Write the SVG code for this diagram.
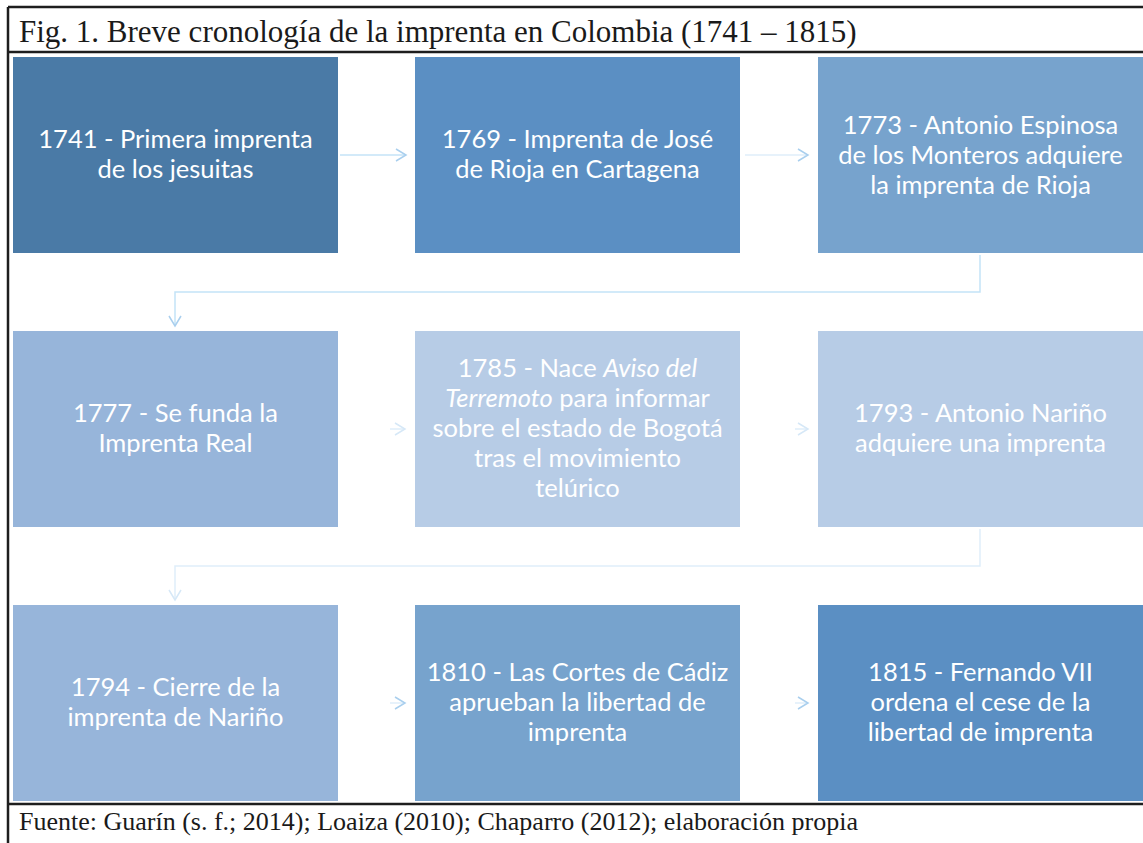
<svg xmlns="http://www.w3.org/2000/svg" width="1143" height="843" viewBox="0 0 1143 843">
<defs>
<style>
.t{font-family:Lato,"Open Sans",sans-serif;font-size:25.5px;fill:#ffffff;text-anchor:middle}
.cap{font-family:"Liberation Serif",serif;font-size:31px;fill:#1a1a1a}
.src{font-family:"Liberation Serif",serif;font-size:26px;fill:#1a1a1a}
.fr{stroke:#1e1e1e;stroke-width:2.5;fill:none}
.c{stroke:#c4e3f7;stroke-width:1.5;fill:none}
.cf{stroke:#dfeefa;stroke-width:1.5;fill:none}
</style>
<marker id="ah" markerWidth="14" markerHeight="14" refX="11" refY="7" orient="auto" markerUnits="userSpaceOnUse">
<path d="M1,1 L11,7 L1,13" fill="none" stroke="#a9cfee" stroke-width="1.5"/>
</marker>
<marker id="ahf" markerWidth="14" markerHeight="14" refX="11" refY="7" orient="auto" markerUnits="userSpaceOnUse">
<path d="M1,1 L11,7 L1,13" fill="none" stroke="#d6e8f7" stroke-width="1.5"/>
</marker>
</defs>
<rect width="1143" height="843" fill="#ffffff"/>
<g id="frame">
<line class="fr" x1="8" y1="7" x2="1143" y2="7"/>
<line class="fr" x1="8" y1="7" x2="8" y2="843"/>
<line class="fr" x1="8" y1="52" x2="1143" y2="52"/>
<line class="fr" x1="8" y1="804" x2="1143" y2="804"/>
<text class="cap" x="19" y="42">Fig. 1. Breve cronología de la imprenta en Colombia (1741 – 1815)</text>
<text class="src" x="19" y="830">Fuente: Guarín (s. f.; 2014); Loaiza (2010); Chaparro (2012); elaboración propia</text>
</g>
<g id="connectors">
<line class="c" x1="340" y1="155" x2="406" y2="155" marker-end="url(#ah)"/>
<line class="cf" x1="745" y1="155" x2="808" y2="155" marker-end="url(#ah)"/>
<polyline class="c" points="980,255 980,292 175,292 175,326" marker-end="url(#ah)"/>
<line class="cf" x1="390" y1="429" x2="405" y2="429" marker-end="url(#ahf)"/>
<line class="cf" x1="795" y1="429" x2="808" y2="429" marker-end="url(#ahf)"/>
<polyline class="cf" points="980,529 980,566 175,566 175,600" marker-end="url(#ahf)"/>
<line class="cf" x1="390" y1="703" x2="405" y2="703" marker-end="url(#ah)"/>
<line class="cf" x1="795" y1="703" x2="808" y2="703" marker-end="url(#ah)"/>
</g>
<g id="n1"><rect x="13" y="57" width="325" height="196" fill="#4a7aa6"/>
<text class="t" x="175.5" y="148">1741 - Primera imprenta</text><text class="t" x="175.5" y="178">de los jesuitas</text></g>
<g id="n2"><rect x="415" y="57" width="325" height="196" fill="#5b8fc3"/>
<text class="t" x="577.5" y="148">1769 - Imprenta de José</text><text class="t" x="577.5" y="178">de Rioja en Cartagena</text></g>
<g id="n3"><rect x="818" y="57" width="325" height="196" fill="#77a3cd"/>
<text class="t" x="980.5" y="134">1773 - Antonio Espinosa</text><text class="t" x="980.5" y="164">de los Monteros adquiere</text><text class="t" x="980.5" y="194">la imprenta de Rioja</text></g>
<g id="n4"><rect x="13" y="331" width="325" height="196" fill="#97b5da"/>
<text class="t" x="175.5" y="422">1777 - Se funda la</text><text class="t" x="175.5" y="452">Imprenta Real</text></g>
<g id="n5"><rect x="415" y="331" width="325" height="196" fill="#b7cce6"/>
<text class="t" x="577.5" y="377">1785 - Nace <tspan font-style="italic">Aviso del</tspan></text>
<text class="t" x="577.5" y="407"><tspan font-style="italic">Terremoto</tspan> para informar</text>
<text class="t" x="577.5" y="437">sobre el estado de Bogotá</text>
<text class="t" x="577.5" y="467">tras el movimiento</text>
<text class="t" x="577.5" y="497">telúrico</text></g>
<g id="n6"><rect x="818" y="331" width="325" height="196" fill="#b7cce6"/>
<text class="t" x="980.5" y="422">1793 - Antonio Nariño</text><text class="t" x="980.5" y="452">adquiere una imprenta</text></g>
<g id="n7"><rect x="13" y="605" width="325" height="196" fill="#97b5da"/>
<text class="t" x="175.5" y="696">1794 - Cierre de la</text><text class="t" x="175.5" y="726">imprenta de Nariño</text></g>
<g id="n8"><rect x="415" y="605" width="325" height="196" fill="#77a3cd"/>
<text class="t" x="577.5" y="681">1810 - Las Cortes de Cádiz</text><text class="t" x="577.5" y="711">aprueban la libertad de</text><text class="t" x="577.5" y="741">imprenta</text></g>
<g id="n9"><rect x="818" y="605" width="325" height="196" fill="#5b8fc3"/>
<text class="t" x="980.5" y="681">1815 - Fernando VII</text><text class="t" x="980.5" y="711">ordena el cese de la</text><text class="t" x="980.5" y="741">libertad de imprenta</text></g>
</svg>
